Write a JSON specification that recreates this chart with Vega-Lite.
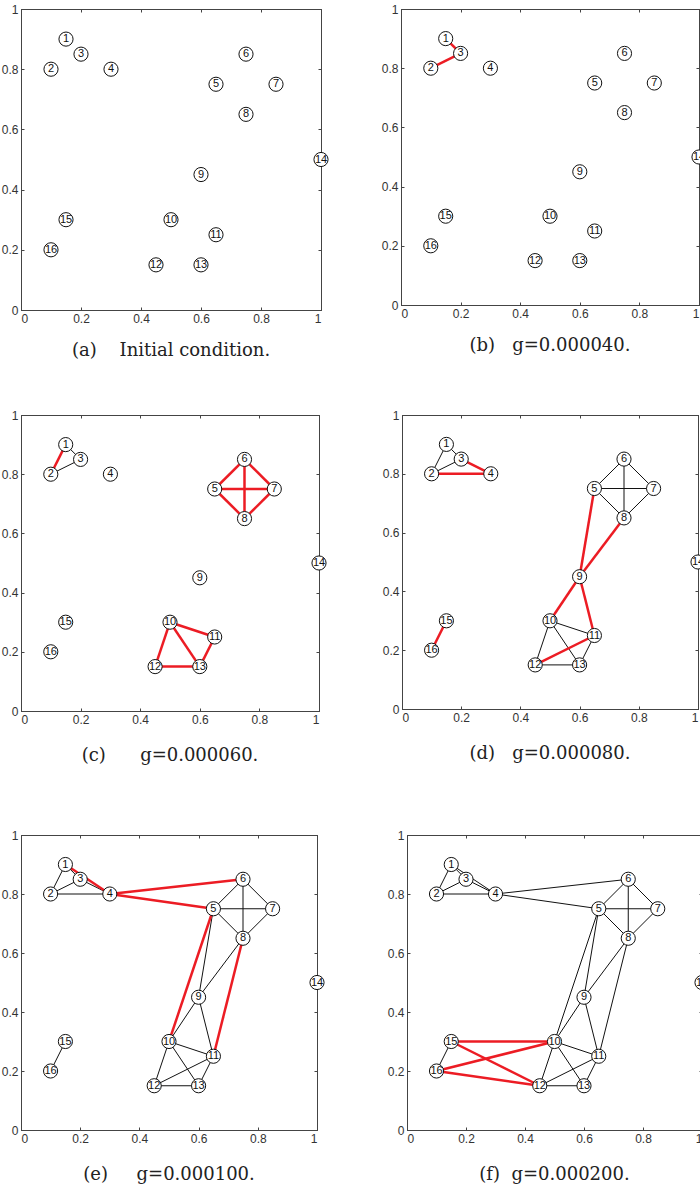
{
  "$schema": "https://vega.github.io/schema/vega-lite/v6.json",
  "padding": {"left": 0, "top": 2, "right": 0, "bottom": 0},
  "background": "white",
  "datasets": {
    "nodes": [
      {"id": 1, "x": 0.15, "y": 0.9}, {"id": 2, "x": 0.1, "y": 0.8}, {"id": 3, "x": 0.2, "y": 0.85},
      {"id": 4, "x": 0.3, "y": 0.8}, {"id": 5, "x": 0.65, "y": 0.75}, {"id": 6, "x": 0.75, "y": 0.85},
      {"id": 7, "x": 0.85, "y": 0.75}, {"id": 8, "x": 0.75, "y": 0.65}, {"id": 9, "x": 0.6, "y": 0.45},
      {"id": 10, "x": 0.5, "y": 0.3}, {"id": 11, "x": 0.65, "y": 0.25}, {"id": 12, "x": 0.45, "y": 0.15},
      {"id": 13, "x": 0.6, "y": 0.15}, {"id": 14, "x": 1, "y": 0.5}, {"id": 15, "x": 0.15, "y": 0.3},
      {"id": 16, "x": 0.1, "y": 0.2}
    ],
    "edges": [
      {"s": 1, "e": 3, "since": 1}, {"s": 2, "e": 3, "since": 1},
      {"s": 1, "e": 2, "since": 2}, {"s": 5, "e": 6, "since": 2}, {"s": 6, "e": 7, "since": 2},
      {"s": 7, "e": 8, "since": 2}, {"s": 5, "e": 8, "since": 2}, {"s": 5, "e": 7, "since": 2},
      {"s": 6, "e": 8, "since": 2}, {"s": 10, "e": 11, "since": 2}, {"s": 10, "e": 12, "since": 2},
      {"s": 10, "e": 13, "since": 2}, {"s": 11, "e": 13, "since": 2}, {"s": 12, "e": 13, "since": 2},
      {"s": 3, "e": 4, "since": 3}, {"s": 2, "e": 4, "since": 3}, {"s": 5, "e": 9, "since": 3},
      {"s": 8, "e": 9, "since": 3}, {"s": 9, "e": 10, "since": 3}, {"s": 9, "e": 11, "since": 3},
      {"s": 11, "e": 12, "since": 3}, {"s": 15, "e": 16, "since": 3},
      {"s": 1, "e": 4, "since": 4}, {"s": 4, "e": 6, "since": 4}, {"s": 4, "e": 5, "since": 4},
      {"s": 5, "e": 10, "since": 4}, {"s": 8, "e": 11, "since": 4},
      {"s": 15, "e": 10, "since": 5}, {"s": 15, "e": 12, "since": 5}, {"s": 16, "e": 10, "since": 5},
      {"s": 16, "e": 12, "since": 5}
    ]
  },
  "config": {
    "view": {"stroke": "#444", "strokeWidth": 1},
    "axis": {
      "grid": false, "domainColor": "#444", "tickColor": "#444", "tickSize": -3,
      "labelFont": "Liberation Sans", "labelFontSize": 12, "labelColor": "#333", "labelPadding": 6
    },
    "title": {"orient": "bottom", "font": "DejaVu Serif", "fontSize": 18, "fontWeight": "normal", "color": "#222", "offset": 18, "anchor": "middle"}
  },
  "vconcat": [
    {
      "vconcat": [
        {
          "hconcat": [
            {
              "width": 300, "height": 301,
              "title": "(a)\u00a0\u00a0\u00a0\u00a0Initial condition.",
              "layer": [
                {
                  "encoding": {
                    "x": {"field": "x", "type": "quantitative", "scale": {"domain": [0, 1], "nice": false}, "axis": {"title": null, "orient": "bottom", "values": [0, 0.2, 0.4, 0.6, 0.8, 1], "format": "~g"}},
                    "y": {"field": "y", "type": "quantitative", "scale": {"domain": [0, 1], "nice": false}, "axis": {"title": null, "orient": "left", "values": [0, 0.2, 0.4, 0.6, 0.8, 1], "format": "~g"}}
                  },
                  "layer": [
                    {"data": {"name": "nodes"}, "mark": {"type": "point", "shape": "circle", "filled": true, "fill": "white", "stroke": "#111", "strokeWidth": 1, "size": 200, "opacity": 1}},
                    {"data": {"name": "nodes"}, "mark": {"type": "text", "font": "Liberation Sans", "fontSize": 11, "color": "#111"}, "encoding": {"text": {"field": "id"}}}
                  ]
                },
                {
                  "data": {"name": "nodes"}, "mark": {"type": "point", "opacity": 0},
                  "encoding": {
                    "x": {"field": "x", "type": "quantitative", "scale": {"domain": [0, 1], "nice": false}, "axis": {"title": null, "orient": "top", "labels": false, "values": [0, 0.2, 0.4, 0.6, 0.8, 1]}},
                    "y": {"field": "y", "type": "quantitative", "scale": {"domain": [0, 1], "nice": false}, "axis": {"title": null, "orient": "right", "labels": false, "values": [0, 0.2, 0.4, 0.6, 0.8, 1]}}
                  }
                }
              ],
              "resolve": {"axis": {"x": "independent", "y": "independent"}}
            },
            {
              "width": 298, "height": 296,
              "title": "(b)\u00a0\u00a0\u00a0g=0.000040.",
              "layer": [
                {
                  "encoding": {
                    "x": {"field": "x", "type": "quantitative", "scale": {"domain": [0, 1], "nice": false}, "axis": {"title": null, "orient": "bottom", "values": [0, 0.2, 0.4, 0.6, 0.8, 1], "format": "~g"}},
                    "y": {"field": "y", "type": "quantitative", "scale": {"domain": [0, 1], "nice": false}, "axis": {"title": null, "orient": "left", "values": [0, 0.2, 0.4, 0.6, 0.8, 1], "format": "~g"}}
                  },
                  "layer": [
                    {"data": {"name": "edges"}, "transform": [{"filter": "datum.since == 1"}, {"lookup": "s", "from": {"data": {"name": "nodes"}, "key": "id", "fields": ["x", "y"]}}, {"lookup": "e", "from": {"data": {"name": "nodes"}, "key": "id", "fields": ["x", "y"]}, "as": ["x2", "y2"]}], "mark": {"type": "rule", "color": "#ec1c24", "strokeWidth": 2.5}, "encoding": {"x2": {"field": "x2"}, "y2": {"field": "y2"}}},
                    {"data": {"name": "nodes"}, "mark": {"type": "point", "shape": "circle", "filled": true, "fill": "white", "stroke": "#111", "strokeWidth": 1, "size": 200, "opacity": 1}},
                    {"data": {"name": "nodes"}, "mark": {"type": "text", "font": "Liberation Sans", "fontSize": 11, "color": "#111"}, "encoding": {"text": {"field": "id"}}}
                  ]
                },
                {
                  "data": {"name": "nodes"}, "mark": {"type": "point", "opacity": 0},
                  "encoding": {
                    "x": {"field": "x", "type": "quantitative", "scale": {"domain": [0, 1], "nice": false}, "axis": {"title": null, "orient": "top", "labels": false, "values": [0, 0.2, 0.4, 0.6, 0.8, 1]}},
                    "y": {"field": "y", "type": "quantitative", "scale": {"domain": [0, 1], "nice": false}, "axis": {"title": null, "orient": "right", "labels": false, "values": [0, 0.2, 0.4, 0.6, 0.8, 1]}}
                  }
                }
              ],
              "resolve": {"axis": {"x": "independent", "y": "independent"}}
            }
          ],
          "spacing": 49
        },
        {
          "hconcat": [
            {
              "width": 298, "height": 296,
              "title": {"text": "(c)\u00a0\u00a0\u00a0\u00a0\u00a0\u00a0g=0.000060.", "offset": 22},
              "layer": [
                {
                  "encoding": {
                    "x": {"field": "x", "type": "quantitative", "scale": {"domain": [0, 1], "nice": false}, "axis": {"title": null, "orient": "bottom", "values": [0, 0.2, 0.4, 0.6, 0.8, 1], "format": "~g"}},
                    "y": {"field": "y", "type": "quantitative", "scale": {"domain": [0, 1], "nice": false}, "axis": {"title": null, "orient": "left", "values": [0, 0.2, 0.4, 0.6, 0.8, 1], "format": "~g"}}
                  },
                  "layer": [
                    {"data": {"name": "edges"}, "transform": [{"filter": "datum.since < 2"}, {"lookup": "s", "from": {"data": {"name": "nodes"}, "key": "id", "fields": ["x", "y"]}}, {"lookup": "e", "from": {"data": {"name": "nodes"}, "key": "id", "fields": ["x", "y"]}, "as": ["x2", "y2"]}], "mark": {"type": "rule", "color": "#111", "strokeWidth": 1}, "encoding": {"x2": {"field": "x2"}, "y2": {"field": "y2"}}},
                    {"data": {"name": "edges"}, "transform": [{"filter": "datum.since == 2"}, {"lookup": "s", "from": {"data": {"name": "nodes"}, "key": "id", "fields": ["x", "y"]}}, {"lookup": "e", "from": {"data": {"name": "nodes"}, "key": "id", "fields": ["x", "y"]}, "as": ["x2", "y2"]}], "mark": {"type": "rule", "color": "#ec1c24", "strokeWidth": 2.5}, "encoding": {"x2": {"field": "x2"}, "y2": {"field": "y2"}}},
                    {"data": {"name": "nodes"}, "mark": {"type": "point", "shape": "circle", "filled": true, "fill": "white", "stroke": "#111", "strokeWidth": 1, "size": 200, "opacity": 1}},
                    {"data": {"name": "nodes"}, "mark": {"type": "text", "font": "Liberation Sans", "fontSize": 11, "color": "#111"}, "encoding": {"text": {"field": "id"}}}
                  ]
                },
                {
                  "data": {"name": "nodes"}, "mark": {"type": "point", "opacity": 0},
                  "encoding": {
                    "x": {"field": "x", "type": "quantitative", "scale": {"domain": [0, 1], "nice": false}, "axis": {"title": null, "orient": "top", "labels": false, "values": [0, 0.2, 0.4, 0.6, 0.8, 1]}},
                    "y": {"field": "y", "type": "quantitative", "scale": {"domain": [0, 1], "nice": false}, "axis": {"title": null, "orient": "right", "labels": false, "values": [0, 0.2, 0.4, 0.6, 0.8, 1]}}
                  }
                }
              ],
              "resolve": {"axis": {"x": "independent", "y": "independent"}}
            },
            {
              "width": 296, "height": 294,
              "title": {"text": "(d)\u00a0\u00a0\u00a0g=0.000080.", "offset": 22},
              "layer": [
                {
                  "encoding": {
                    "x": {"field": "x", "type": "quantitative", "scale": {"domain": [0, 1], "nice": false}, "axis": {"title": null, "orient": "bottom", "values": [0, 0.2, 0.4, 0.6, 0.8, 1], "format": "~g"}},
                    "y": {"field": "y", "type": "quantitative", "scale": {"domain": [0, 1], "nice": false}, "axis": {"title": null, "orient": "left", "values": [0, 0.2, 0.4, 0.6, 0.8, 1], "format": "~g"}}
                  },
                  "layer": [
                    {"data": {"name": "edges"}, "transform": [{"filter": "datum.since < 3"}, {"lookup": "s", "from": {"data": {"name": "nodes"}, "key": "id", "fields": ["x", "y"]}}, {"lookup": "e", "from": {"data": {"name": "nodes"}, "key": "id", "fields": ["x", "y"]}, "as": ["x2", "y2"]}], "mark": {"type": "rule", "color": "#111", "strokeWidth": 1}, "encoding": {"x2": {"field": "x2"}, "y2": {"field": "y2"}}},
                    {"data": {"name": "edges"}, "transform": [{"filter": "datum.since == 3"}, {"lookup": "s", "from": {"data": {"name": "nodes"}, "key": "id", "fields": ["x", "y"]}}, {"lookup": "e", "from": {"data": {"name": "nodes"}, "key": "id", "fields": ["x", "y"]}, "as": ["x2", "y2"]}], "mark": {"type": "rule", "color": "#ec1c24", "strokeWidth": 2.5}, "encoding": {"x2": {"field": "x2"}, "y2": {"field": "y2"}}},
                    {"data": {"name": "nodes"}, "mark": {"type": "point", "shape": "circle", "filled": true, "fill": "white", "stroke": "#111", "strokeWidth": 1, "size": 200, "opacity": 1}},
                    {"data": {"name": "nodes"}, "mark": {"type": "text", "font": "Liberation Sans", "fontSize": 11, "color": "#111"}, "encoding": {"text": {"field": "id"}}}
                  ]
                },
                {
                  "data": {"name": "nodes"}, "mark": {"type": "point", "opacity": 0},
                  "encoding": {
                    "x": {"field": "x", "type": "quantitative", "scale": {"domain": [0, 1], "nice": false}, "axis": {"title": null, "orient": "top", "labels": false, "values": [0, 0.2, 0.4, 0.6, 0.8, 1]}},
                    "y": {"field": "y", "type": "quantitative", "scale": {"domain": [0, 1], "nice": false}, "axis": {"title": null, "orient": "right", "labels": false, "values": [0, 0.2, 0.4, 0.6, 0.8, 1]}}
                  }
                }
              ],
              "resolve": {"axis": {"x": "independent", "y": "independent"}}
            }
          ],
          "spacing": 52
        }
      ],
      "spacing": 47
    },
    {
      "hconcat": [
        {
          "width": 296, "height": 295,
          "title": {"text": "(e)\u00a0\u00a0\u00a0\u00a0\u00a0g=0.000100.", "offset": 22},
          "layer": [
            {
              "encoding": {
                "x": {"field": "x", "type": "quantitative", "scale": {"domain": [0, 1], "nice": false}, "axis": {"title": null, "orient": "bottom", "values": [0, 0.2, 0.4, 0.6, 0.8, 1], "format": "~g"}},
                "y": {"field": "y", "type": "quantitative", "scale": {"domain": [0, 1], "nice": false}, "axis": {"title": null, "orient": "left", "values": [0, 0.2, 0.4, 0.6, 0.8, 1], "format": "~g"}}
              },
              "layer": [
                {"data": {"name": "edges"}, "transform": [{"filter": "datum.since < 4"}, {"lookup": "s", "from": {"data": {"name": "nodes"}, "key": "id", "fields": ["x", "y"]}}, {"lookup": "e", "from": {"data": {"name": "nodes"}, "key": "id", "fields": ["x", "y"]}, "as": ["x2", "y2"]}], "mark": {"type": "rule", "color": "#111", "strokeWidth": 1}, "encoding": {"x2": {"field": "x2"}, "y2": {"field": "y2"}}},
                {"data": {"name": "edges"}, "transform": [{"filter": "datum.since == 4"}, {"lookup": "s", "from": {"data": {"name": "nodes"}, "key": "id", "fields": ["x", "y"]}}, {"lookup": "e", "from": {"data": {"name": "nodes"}, "key": "id", "fields": ["x", "y"]}, "as": ["x2", "y2"]}], "mark": {"type": "rule", "color": "#ec1c24", "strokeWidth": 2.5}, "encoding": {"x2": {"field": "x2"}, "y2": {"field": "y2"}}},
                {"data": {"name": "nodes"}, "mark": {"type": "point", "shape": "circle", "filled": true, "fill": "white", "stroke": "#111", "strokeWidth": 1, "size": 200, "opacity": 1}},
                {"data": {"name": "nodes"}, "mark": {"type": "text", "font": "Liberation Sans", "fontSize": 11, "color": "#111"}, "encoding": {"text": {"field": "id"}}}
              ]
            },
            {
              "data": {"name": "nodes"}, "mark": {"type": "point", "opacity": 0},
              "encoding": {
                "x": {"field": "x", "type": "quantitative", "scale": {"domain": [0, 1], "nice": false}, "axis": {"title": null, "orient": "top", "labels": false, "values": [0, 0.2, 0.4, 0.6, 0.8, 1]}},
                "y": {"field": "y", "type": "quantitative", "scale": {"domain": [0, 1], "nice": false}, "axis": {"title": null, "orient": "right", "labels": false, "values": [0, 0.2, 0.4, 0.6, 0.8, 1]}}
              }
            }
          ],
          "resolve": {"axis": {"x": "independent", "y": "independent"}}
        },
        {
          "width": 295, "height": 295,
          "title": {"text": "(f)\u00a0\u00a0g=0.000200.", "offset": 22},
          "layer": [
            {
              "encoding": {
                "x": {"field": "x", "type": "quantitative", "scale": {"domain": [0, 1], "nice": false}, "axis": {"title": null, "orient": "bottom", "values": [0, 0.2, 0.4, 0.6, 0.8, 1], "format": "~g"}},
                "y": {"field": "y", "type": "quantitative", "scale": {"domain": [0, 1], "nice": false}, "axis": {"title": null, "orient": "left", "values": [0, 0.2, 0.4, 0.6, 0.8, 1], "format": "~g"}}
              },
              "layer": [
                {"data": {"name": "edges"}, "transform": [{"filter": "datum.since < 5"}, {"lookup": "s", "from": {"data": {"name": "nodes"}, "key": "id", "fields": ["x", "y"]}}, {"lookup": "e", "from": {"data": {"name": "nodes"}, "key": "id", "fields": ["x", "y"]}, "as": ["x2", "y2"]}], "mark": {"type": "rule", "color": "#111", "strokeWidth": 1}, "encoding": {"x2": {"field": "x2"}, "y2": {"field": "y2"}}},
                {"data": {"name": "edges"}, "transform": [{"filter": "datum.since == 5"}, {"lookup": "s", "from": {"data": {"name": "nodes"}, "key": "id", "fields": ["x", "y"]}}, {"lookup": "e", "from": {"data": {"name": "nodes"}, "key": "id", "fields": ["x", "y"]}, "as": ["x2", "y2"]}], "mark": {"type": "rule", "color": "#ec1c24", "strokeWidth": 2.5}, "encoding": {"x2": {"field": "x2"}, "y2": {"field": "y2"}}},
                {"data": {"name": "nodes"}, "mark": {"type": "point", "shape": "circle", "filled": true, "fill": "white", "stroke": "#111", "strokeWidth": 1, "size": 200, "opacity": 1}},
                {"data": {"name": "nodes"}, "mark": {"type": "text", "font": "Liberation Sans", "fontSize": 11, "color": "#111"}, "encoding": {"text": {"field": "id"}}}
              ]
            },
            {
              "data": {"name": "nodes"}, "mark": {"type": "point", "opacity": 0},
              "encoding": {
                "x": {"field": "x", "type": "quantitative", "scale": {"domain": [0, 1], "nice": false}, "axis": {"title": null, "orient": "top", "labels": false, "values": [0, 0.2, 0.4, 0.6, 0.8, 1]}},
                "y": {"field": "y", "type": "quantitative", "scale": {"domain": [0, 1], "nice": false}, "axis": {"title": null, "orient": "right", "labels": false, "values": [0, 0.2, 0.4, 0.6, 0.8, 1]}}
              }
            }
          ],
          "resolve": {"axis": {"x": "independent", "y": "independent"}}
        }
      ],
      "spacing": 59
    }
  ],
  "spacing": 62
}
